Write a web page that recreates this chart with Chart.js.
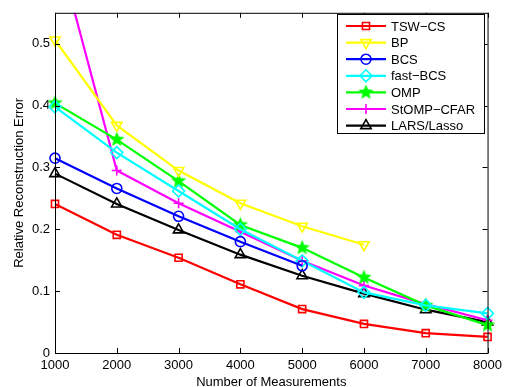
<!DOCTYPE html>
<html>
<head>
<meta charset="utf-8">
<script src="https://cdn.jsdelivr.net/npm/chart.js@4.4.0/dist/chart.umd.min.js"></script>
<style>
  html, body { margin: 0; padding: 0; background: #fff; }
  #wrap { width: 507px; height: 387px; }
</style>
</head>
<body>
<div id="wrap"><canvas id="errorChart"></canvas></div>
<script>
const measurements = [1000, 2000, 3000, 4000, 5000, 6000, 7000, 8000];
const tswCs     = [0.241, 0.191, 0.154, 0.111, 0.071, 0.047, 0.032, 0.026];
const bp        = [0.506, 0.368, 0.295, 0.242, 0.205, 0.175, null, null];
const bcs       = [0.315, 0.266, 0.221, 0.180, 0.141, null, null, null];
const fastBcs   = [0.398, 0.324, 0.262, 0.200, 0.149, 0.098, 0.077, 0.064];
const omp       = [0.404, 0.345, 0.278, 0.207, 0.170, 0.122, 0.077, 0.045];
const stompCfar = [0.670, 0.295, 0.242, 0.196, 0.149, 0.109, 0.079, 0.053];
const larsLasso = [0.290, 0.241, 0.199, 0.159, 0.125, 0.096, 0.070, 0.050];
const yTicks = [0, 0.1, 0.2, 0.3, 0.4, 0.5];

const FONT = '"Liberation Sans", Arial, Helvetica, sans-serif';

function makeStar(color, size) {
    const c = document.createElement('canvas');
    c.width = c.height = size;
    const g = c.getContext('2d');
    const r = size / 2, ri = r * 0.42;
    g.beginPath();
    for (let k = 0; k < 10; k++) {
        const a = -Math.PI / 2 + k * Math.PI / 5;
        const rr = k % 2 ? ri : r - 0.5;
        g.lineTo(r + rr * Math.cos(a), r + rr * Math.sin(a));
    }
    g.closePath();
    g.fillStyle = color;
    g.fill();
    return c;
}

function toPoints(values) {
    return measurements.map((m, i) => ({ x: m, y: values[i] })).filter(p => p.y !== null);
}

function series(label, values, color, style, radius, rotation) {
    return {
        label: label,
        data: toPoints(values),
        borderColor: color,
        backgroundColor: color,
        borderWidth: 2.2,
        tension: 0,
        pointStyle: style,
        pointRadius: radius,
        pointRotation: rotation || 0,
        pointBorderColor: color,
        pointBackgroundColor: 'rgba(0,0,0,0)',
        pointBorderWidth: 1.6,
        clip: { left: 10, right: 10, top: 0, bottom: 10 }
    };
}

const datasets = [
    series('TSW\u2212CS', tswCs, '#ff0000', 'rect', 5),
    series('BP', bp, '#ffff00', 'triangle', 6, 180),
    series('BCS', bcs, '#0000ff', 'circle', 5),
    series('fast\u2212BCS', fastBcs, '#00ffff', 'rectRot', 6),
    series('OMP', omp, '#00ff00', makeStar('#00ff00', 17), 8),
    series('StOMP\u2212CFAR', stompCfar, '#ff00ff', 'cross', 5),
    series('LARS/Lasso', larsLasso, '#000000', 'triangle', 6)
];

// MATLAB-like box with inward ticks on all four sides, plus the legend
const boxPlugin = {
    id: 'box',
    afterDatasetsDraw(chart) {
        const { ctx, chartArea: a, scales } = chart;
        ctx.save();
        ctx.strokeStyle = '#000';
        ctx.lineWidth = 1;
        ctx.strokeRect(a.left + 0.5, a.top + 0.5, a.right - a.left, a.bottom - a.top);
        ctx.beginPath();
        measurements.forEach(v => {
            const x = Math.round(scales.x.getPixelForValue(v)) + 0.5;
            ctx.moveTo(x, a.bottom); ctx.lineTo(x, a.bottom - 5);
            ctx.moveTo(x, a.top); ctx.lineTo(x, a.top + 5);
        });
        yTicks.forEach(v => {
            const y = Math.round(scales.y.getPixelForValue(v)) + 0.5;
            ctx.moveTo(a.left, y); ctx.lineTo(a.left + 5, y);
            ctx.moveTo(a.right, y); ctx.lineTo(a.right - 5, y);
        });
        ctx.stroke();
        ctx.restore();
    },
    afterDraw(chart) {
        const ctx = chart.ctx;
        const bx = 337, by = 14, bw = 147, bh = 119;
        ctx.save();
        ctx.fillStyle = '#fff';
        ctx.fillRect(bx, by, bw, bh);
        ctx.strokeStyle = '#000';
        ctx.lineWidth = 1;
        ctx.strokeRect(bx + 0.5, by + 0.5, bw, bh);
        ctx.font = '13px ' + FONT;
        ctx.textBaseline = 'middle';
        chart.data.datasets.forEach((ds, i) => {
            const y = by + 12 + i * 16.6;
            ctx.strokeStyle = ds.borderColor;
            ctx.lineWidth = 2.2;
            ctx.beginPath();
            ctx.moveTo(346, y); ctx.lineTo(386, y);
            ctx.stroke();
            ctx.lineWidth = 1.6;
            ctx.fillStyle = 'rgba(0,0,0,0)';
            Chart.helpers.drawPoint(ctx, {
                pointStyle: ds.pointStyle,
                rotation: ds.pointRotation,
                radius: ds.pointRadius,
                borderWidth: 1.6
            }, 366, y);
            ctx.fillStyle = '#000';
            ctx.fillText(ds.label, 391, y + 1);
        });
        ctx.restore();
    }
};

new Chart(document.getElementById('errorChart').getContext('2d'), {
    type: 'line',
    data: { datasets: datasets },
    plugins: [boxPlugin],
    options: {
        responsive: true,
        maintainAspectRatio: false,
        animation: false,
        layout: { padding: { left: 0, right: 16, top: 9, bottom: 0 } },
        plugins: { legend: { display: false }, tooltip: { enabled: false } },
        scales: {
            x: {
                type: 'linear',
                min: 1000,
                max: 8000,
                grid: { display: false, drawTicks: false, tickLength: 0 },
                border: { display: false },
                ticks: {
                    stepSize: 1000,
                    color: '#000',
                    font: { family: FONT, size: 13 },
                    padding: 5,
                    maxRotation: 0,
                    callback: v => String(v)
                },
                title: {
                    display: true,
                    text: 'Number of Measurements',
                    color: '#000',
                    font: { family: FONT, size: 13 },
                    padding: { top: 0, bottom: -3 }
                },
                afterFit: s => { s.height = 34; }
            },
            y: {
                min: 0,
                max: 0.55,
                grid: { display: false, drawTicks: false, tickLength: 0 },
                border: { display: false },
                ticks: {
                    stepSize: 0.1,
                    includeBounds: false,
                    color: '#000',
                    font: { family: FONT, size: 13 },
                    padding: 5,
                    callback: v => String(Math.round(v * 10) / 10)
                },
                title: {
                    display: true,
                    text: 'Relative Reconstruction Error',
                    color: '#000',
                    font: { family: FONT, size: 13 },
                    padding: { top: 12, bottom: 0 }
                },
                afterFit: s => { s.width = 55; }
            }
        }
    }
});
</script>
</body>
</html>
